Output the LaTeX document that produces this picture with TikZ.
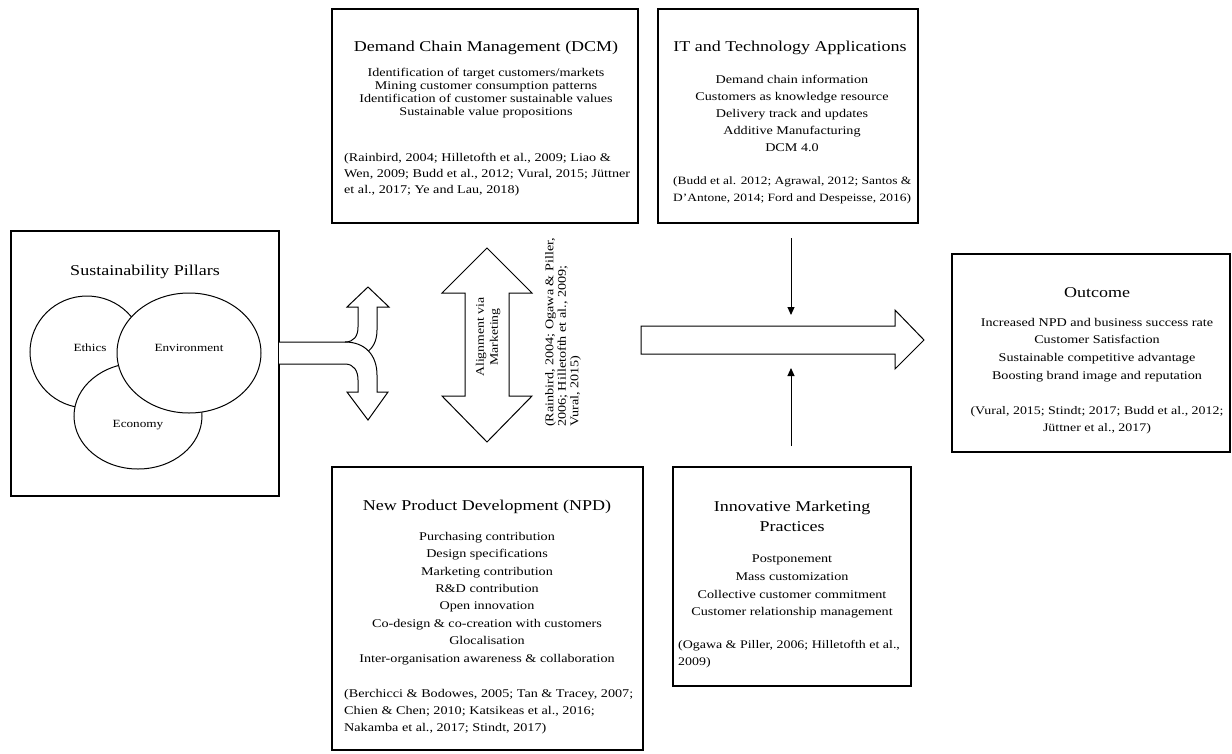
\documentclass[tikz,border=0pt]{standalone}
\usepackage{fontspec}
\setmainfont{Liberation Serif}[FakeStretch=1.2]
\usetikzlibrary{arrows.meta,shapes.geometric}
\begin{document}
\begin{tikzpicture}[x=1pt,y=-1pt,
  box/.style={draw, rectangle, line width=1.3pt, inner sep=0pt},
  pillar/.style={draw, ellipse, fill=white, line width=1pt, inner sep=0pt},
  blockarrow/.style={draw, fill=white, line width=1pt, line join=miter},
  ttl/.style={inner sep=0pt, anchor=north, align=center, font={\fontsize{15}{20}\selectfont}},
  lbl/.style={inner sep=0pt, font={\fontsize{11}{13}\selectfont}},
  lst/.style={inner sep=0pt, anchor=north, align=center},
  cite/.style={inner sep=0pt, anchor=north west, align=left},
  feed/.style={line width=1pt, -{Triangle[length=8pt,width=7pt]}}
]
\fill[white] (0,0) rectangle (1232,753);
\useasboundingbox (0,0) rectangle (1232,753);

% ---- Sustainability pillars ----
\node[box, minimum width=268pt, minimum height=265pt] (pillars) at (145,363.5) {};
\node[ttl] (pillarsT) at (145,265) {Sustainability Pillars};
\node[pillar, minimum width=114pt, minimum height=112pt] (ethics) at (87,352) {};
\node[pillar, minimum width=128pt, minimum height=106pt] (economy) at (138,416) {};
\node[pillar, minimum width=144pt, minimum height=120pt] (environ) at (189,353) {};
\node[lbl] (ethicsL) at (90,348) {Ethics};
\node[lbl] (environL) at (189,348) {Environment};
\node[lbl] (economyL) at (138,425) {Economy};

% ---- split arrow leaving the pillars ----
\fill[white] (279,342) -- (345,342) .. controls (354,342) and (358,336) .. (358,327)
  -- (358,307) -- (347,307) -- (368,287) -- (389,307) -- (377,307) -- (377,330)
  .. controls (377,342) and (372,348) .. (368.5,351)
  .. controls (374,356.75) and (377,365) .. (377,375)
  -- (377,392) -- (388,392) -- (368,420) -- (347,392) -- (358,392) -- (358,380)
  .. controls (358,371) and (354,364) .. (345,364) -- (279,364) -- cycle;
\draw[line width=1pt, line join=miter] (279,342) -- (345,342) .. controls (354,342) and (358,336) .. (358,327)
  -- (358,307) -- (347,307) -- (368,287) -- (389,307) -- (377,307) -- (377,330)
  .. controls (377,342) and (372,348) .. (368.5,351)
  .. controls (374,356.75) and (377,365) .. (377,375)
  -- (377,392) -- (388,392) -- (368,420) -- (347,392) -- (358,392) -- (358,380)
  .. controls (358,371) and (354,364) .. (345,364) -- (279,364);
\draw[line width=1pt] (345,342) .. controls (355,342) and (363,345.25) .. (368.5,351);

% ---- Demand Chain Management ----
\node[box, minimum width=306pt, minimum height=214pt] (dcm) at (485,116) {};
\node[ttl] (dcmT) at (486,41) {Demand Chain Management (DCM)};
\node[lst, font={\fontsize{11.8}{13}\selectfont}] (dcmL) at (486,68)
  {Identification of target customers/markets\\
   Mining customer consumption patterns\\
   Identification of customer sustainable values\\
   Sustainable value propositions};
\node[cite, font={\fontsize{11.8}{16}\selectfont}] (dcmR) at (344,153)
  {(Rainbird, 2004; Hilletofth et al., 2009; Liao \&\\
   Wen, 2009; Budd et al., 2012; Vural, 2015; Jüttner\\
   et al., 2017; Ye and Lau, 2018)};

% ---- IT and Technology Applications ----
\node[box, minimum width=260pt, minimum height=214pt] (it) at (788,116) {};
\node[ttl] (itT) at (790,41) {IT and Technology Applications};
\node[lst, font={\fontsize{11.8}{17}\selectfont}] (itL) at (792,75)
  {Demand chain information\\
   Customers as knowledge resource\\
   Delivery track and updates\\
   Additive Manufacturing\\
   DCM 4.0};
\node[cite, font={\fontsize{11.2}{17}\selectfont}] (itR) at (673,177)
  {(Budd et al. 2012; Agrawal, 2012; Santos \&\\
   D'Antone, 2014; Ford and Despeisse, 2016)};

% ---- New Product Development ----
\node[box, minimum width=311pt, minimum height=283pt] (npd) at (487.5,608.5) {};
\node[ttl] (npdT) at (487,500) {New Product Development (NPD)};
\node[lst, font={\fontsize{11.8}{17.4}\selectfont}] (npdL) at (487,532)
  {Purchasing contribution\\
   Design specifications\\
   Marketing contribution\\
   R\&D contribution\\
   Open innovation\\
   Co-design \& co-creation with customers\\
   Glocalisation\\
   Inter-organisation awareness \& collaboration};
\node[cite, font={\fontsize{11.8}{17}\selectfont}] (npdR) at (344,689)
  {(Berchicci \& Bodowes, 2005; Tan \& Tracey, 2007;\\
   Chien \& Chen; 2010; Katsikeas et al., 2016;\\
   Nakamba et al., 2017; Stindt, 2017)};

% ---- Innovative Marketing Practices ----
\node[box, minimum width=238pt, minimum height=219pt] (imp) at (792,576.5) {};
\node[ttl] (impT) at (792,501) {Innovative Marketing\\Practices};
\node[lst, font={\fontsize{11.8}{17.6}\selectfont}] (impL) at (792,555)
  {Postponement\\
   Mass customization\\
   Collective customer commitment\\
   Customer relationship management};
\node[cite, font={\fontsize{11.6}{17}\selectfont}] (impR) at (678,640)
  {(Ogawa \& Piller, 2006; Hilletofth et al.,\\
   2009)};

% ---- Outcome ----
\node[box, minimum width=278pt, minimum height=198pt] (out) at (1091,353) {};
\node[ttl] (outT) at (1097,287) {Outcome};
\node[lst, font={\fontsize{11.8}{17.6}\selectfont}] (outL) at (1097,318)
  {Increased NPD and business success rate\\
   Customer Satisfaction\\
   Sustainable competitive advantage\\
   Boosting brand image and reputation};
\node[lst, font={\fontsize{11.6}{17}\selectfont}] (outR) at (1097,406)
  {(Vural, 2015; Stindt; 2017; Budd et al., 2012;\\
   Jüttner et al., 2017)};

% ---- alignment double arrow ----
\draw[blockarrow] (487,248) -- (532,293) -- (509,293) -- (509,396) -- (532,396)
  -- (487,442) -- (442,396) -- (465,396) -- (465,293) -- (442,293) -- cycle;
\node[inner sep=0pt, rotate=90, align=center, font={\fontsize{11.5}{14}\selectfont}] (alignT) at (488,337)
  {Alignment via\\Marketing};
\node[cite, rotate=90, font={\fontsize{11.8}{12.5}\selectfont}] (alignR) at (545,427)
  {(Rainbird, 2004; Ogawa \& Piller,\\
   2006; Hilletofth et al., 2009;\\
   Vural, 2015)};

% ---- main flow arrow towards the outcome ----
\draw[blockarrow] (641,326) -- (895,326) -- (895,310) -- (924,340) -- (895,369)
  -- (895,354) -- (641,354) -- cycle;
\coordinate (itFeedS) at (791,238);
\coordinate (itFeedE) at (791,315);
\coordinate (impFeedS) at (791,446);
\coordinate (impFeedE) at (791,368);
\draw[feed] (itFeedS) -- (itFeedE);
\draw[feed] (impFeedS) -- (impFeedE);
\end{tikzpicture}
\end{document}
